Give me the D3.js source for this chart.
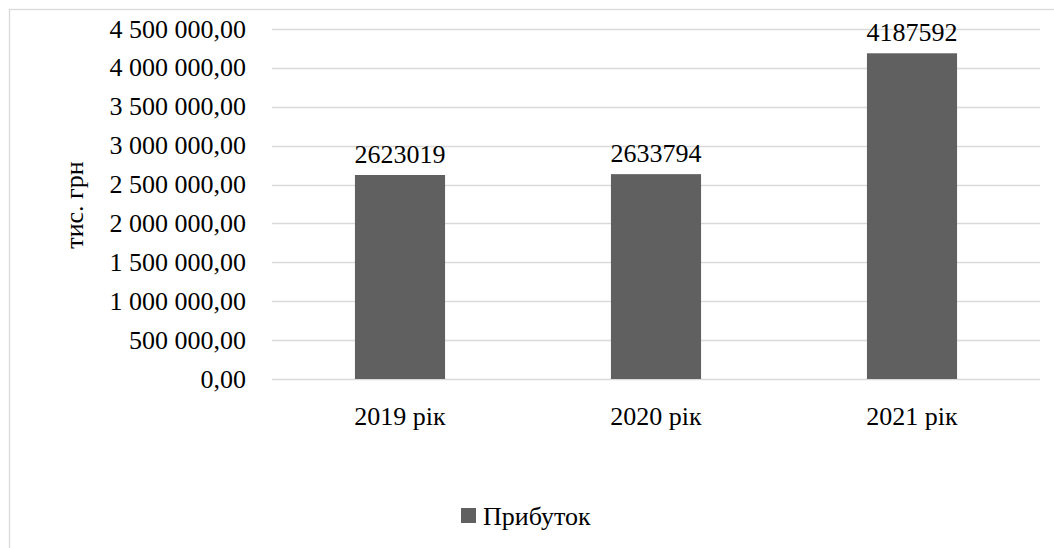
<!DOCTYPE html>
<html><head><meta charset="utf-8">
<script src="https://cdn.jsdelivr.net/npm/d3@7"></script>
<style>body{margin:0;background:#fff}svg{display:block}</style>
</head><body>
<svg id="c" width="1054" height="548"></svg>
<script>
const categories = ["2019 рік", "2020 рік", "2021 рік"];
const values = [2623019, 2633794, 4187592];
const valueLabels = ["2623019", "2633794", "4187592"];
const yTicks = [0, 500000, 1000000, 1500000, 2000000, 2500000, 3000000, 3500000, 4000000, 4500000];
const seriesName = "Прибуток";
const yTitle = "тис. грн";

(function () {
const FS = 26, FF = "Liberation Serif";
const svg = d3.select("#c");
svg.append("rect").attr("x", 9.5).attr("y", 9.5).attr("width", 1100).attr("height", 600)
  .attr("fill", "#fff").attr("stroke", "#d9d9d9").attr("stroke-width", 1.3);

const pL = 272, pR = 1040, pT = 29, pB = 379;
const x = d3.scaleBand().domain(categories).range([pL, pR]);
const y = d3.scaleLinear().domain([0, 4500000]).range([pB, pT]);
const fmt = v => {
  const s = d3.format(",.2f")(v);
  return s.replace(/,/g, " ").replace(".", ",");
};
const txt = sel => sel.attr("font-family", FF).attr("font-size", FS).attr("fill", "#000")
  .style("font-family", "'Liberation Serif', Tinos, 'Times New Roman', serif", "important")
  .style("font-size", FS + "px", "important");

// gridlines
svg.append("g").selectAll("line").data(yTicks).join("line")
  .attr("x1", pL).attr("x2", pR)
  .attr("y1", d => Math.round(y(d)) + 0.5).attr("y2", d => Math.round(y(d)) + 0.5)
  .attr("stroke", "#d9d9d9").attr("stroke-width", 1.3);

// y tick labels
svg.append("g").selectAll("text").data(yTicks).join("text")
  .call(txt)
  .attr("x", 246).attr("y", d => y(d)).attr("dy", "0.33em")
  .attr("text-anchor", "end").text(fmt);

// bars
const bw = x.bandwidth() * 0.352;
svg.append("g").selectAll("rect").data(values).join("rect")
  .attr("x", (d, i) => x(categories[i]) + x.bandwidth() / 2 - bw / 2)
  .attr("width", bw)
  .attr("y", d => y(d)).attr("height", d => pB - y(d))
  .attr("fill", "#606060");

// value labels
svg.append("g").selectAll("text").data(values).join("text")
  .call(txt)
  .attr("x", (d, i) => x(categories[i]) + x.bandwidth() / 2)
  .attr("y", d => y(d) - 12)
  .attr("text-anchor", "middle")
  .text((d, i) => valueLabels[i]);

// x labels
svg.append("g").selectAll("text").data(categories).join("text")
  .call(txt)
  .attr("x", d => x(d) + x.bandwidth() / 2).attr("y", 425)
  .attr("text-anchor", "middle").text(d => d);

// y title
svg.append("text").call(txt).attr("transform", "translate(83,205) rotate(-90)")
  .attr("text-anchor", "middle").text(yTitle);

// legend
svg.append("rect").attr("x", 461).attr("y", 508).attr("width", 15).attr("height", 15).attr("fill", "#606060");
svg.append("text").call(txt).attr("x", 483).attr("y", 525).text(seriesName);
})();
</script>
</body></html>
